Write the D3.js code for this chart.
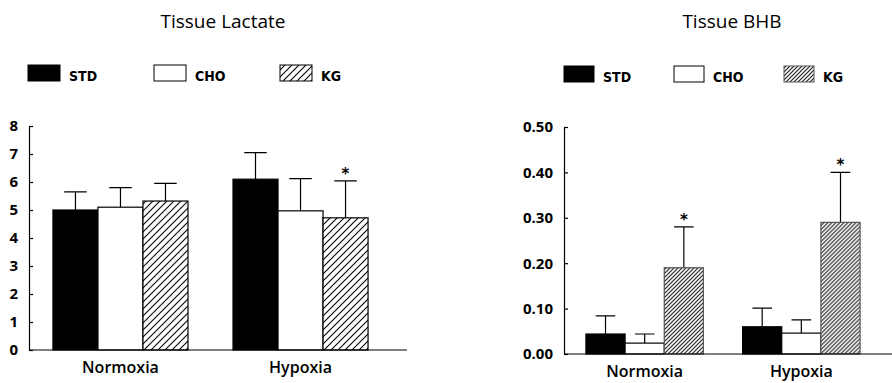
<!DOCTYPE html>
<meta charset="utf-8">
<style>
body { margin: 0; background: #fff; }
svg { display: block; }
.title { font-family: "Open Sans", "DejaVu Sans", sans-serif; font-size: 19px; }
.legend text { font-family: "DejaVu Sans Condensed", "DejaVu Sans", sans-serif; font-weight: bold; font-size: 14px; }
.yaxis text { font-family: "Open Sans", "DejaVu Sans", sans-serif; font-weight: bold; font-size: 15px; fill: #000; }
.xaxis text { font-family: "Open Sans", "DejaVu Sans", sans-serif; font-weight: 600; font-size: 16px; fill: #000; }
.star { font-family: "DejaVu Sans", sans-serif; font-weight: bold; font-size: 15px; }
</style>
<svg width="892" height="383"></svg>
<script src="https://d3js.org/d3.v7.min.js"></script>
<script>

var groups = ["Normoxia", "Hypoxia"];
var diets = ["STD", "CHO", "KG"];

// means and error (SD) by group, in diet order STD, CHO, KG
var lactateNormoxia = [5.0, 5.1, 5.32],
    lactateHypoxia = [6.1, 4.97, 4.72],
    lactateNormoxiaErr = [0.65, 0.7, 0.63],
    lactateHypoxiaErr = [0.95, 1.15, 1.32],
    lactateStar = [[0, 0, 0], [0, 0, 1]],
    lactateTicks = [0, 1, 2, 3, 4, 5, 6, 7, 8];

var bhbNormoxia = [0.044, 0.024, 0.19],
    bhbHypoxia = [0.06, 0.046, 0.29],
    bhbNormoxiaErr = [0.04, 0.02, 0.09],
    bhbHypoxiaErr = [0.041, 0.029, 0.11],
    bhbStar = [[0, 0, 1], [0, 0, 1]],
    bhbTicks = [0, 0.1, 0.2, 0.3, 0.4, 0.5];

var svg = d3.select("svg");
var defs = svg.append("defs");

// diagonal "///" hatch, s = horizontal spacing between lines
function hatch(id, s, color, width) {
  var p = defs.append("pattern")
      .attr("id", id)
      .attr("patternUnits", "userSpaceOnUse")
      .attr("width", s)
      .attr("height", s);
  p.append("rect").attr("width", s).attr("height", s).attr("fill", "#fff");
  p.append("path")
      .attr("d", "M0," + s + "L" + s + ",0M" + (-s / 2) + "," + (s / 2) + "L" + (s / 2) + "," + (-s / 2) +
                 "M" + (s / 2) + "," + (s * 1.5) + "L" + (s * 1.5) + "," + (s / 2))
      .attr("stroke", color)
      .attr("stroke-width", width);
}
hatch("hatchWide", 7, "#000", 1.1);
hatch("hatchDense", 4, "#222", 1.2);

function panel(o) {
  var rows = groups.map(function(g, i) {
    return diets.map(function(d, j) {
      return {group: g, diet: d, mean: o.means[i][j], err: o.errs[i][j], star: o.star[i][j]};
    });
  });

  var x0 = d3.scaleBand().domain(groups).range(o.xRange)
      .paddingInner(0.25).paddingOuter(o.outer);
  var x1 = d3.scaleBand().domain(diets).range([0, x0.bandwidth()]);
  var y = d3.scaleLinear().domain([0, d3.max(o.ticks)]).range(o.yRange);

  var fill = {STD: "#000", CHO: "#fff", KG: "url(#" + o.hatch + ")"};
  var kgStroke = o.hatch === "hatchDense" ? "#555" : "#000";

  svg.append("text")
      .attr("class", "title")
      .attr("x", o.titleX)
      .attr("y", 28)
      .attr("text-anchor", "middle")
      .text(o.title);

  // legend
  var leg = svg.append("g").attr("class", "legend");
  diets.forEach(function(d, i) {
    var lx = o.legX + i * o.legStep;
    leg.append("rect")
        .attr("x", lx).attr("y", o.legY)
        .attr("width", o.legW).attr("height", 16)
        .attr("fill", fill[d]).attr("stroke", d === "KG" ? kgStroke : "#000");
    leg.append("text")
        .attr("x", lx + o.legW + 9).attr("y", o.legY + 16)
        .text(d);
  });

  var g = svg.append("g");

  g.selectAll(".grp")
    .data(rows)
    .enter().append("g")
      .attr("transform", function(d, i) { return "translate(" + x0(groups[i]) + ",0)"; })
    .each(function(r) {
      var s = d3.select(this);
      var cap = x1.bandwidth() * 0.5;

      s.selectAll(".err")
        .data(r)
        .enter().append("path")
          .attr("fill", "none")
          .attr("stroke", "#000")
          .attr("stroke-width", 1.2)
          .attr("d", function(d) {
            var cx = x1(d.diet) + x1.bandwidth() / 2;
            return "M" + cx + "," + y(d.mean) + "V" + y(d.mean + d.err) +
                   "M" + (cx - cap / 2) + "," + y(d.mean + d.err) + "H" + (cx + cap / 2);
          });

      s.selectAll("rect")
        .data(r)
        .enter().append("rect")
          .attr("x", function(d) { return x1(d.diet); })
          .attr("y", function(d) { return y(d.mean); })
          .attr("width", x1.bandwidth())
          .attr("height", function(d) { return y(0) - y(d.mean); })
          .attr("fill", function(d) { return fill[d.diet]; })
          .attr("stroke", function(d) { return d.diet === "KG" ? kgStroke : "#000"; })
          .attr("stroke-width", 1.2);

      s.selectAll(".star")
        .data(r.filter(function(d) { return d.star; }))
        .enter().append("text")
          .attr("class", "star")
          .attr("x", function(d) { return x1(d.diet) + x1.bandwidth() / 2; })
          .attr("y", function(d) { return y(d.mean + d.err) - 2; })
          .attr("text-anchor", "middle")
          .text("*");
    });

  // y axis, ticks pointing inward
  g.append("g")
      .attr("class", "yaxis")
      .attr("transform", "translate(" + o.xRange[0] + ",0)")
      .call(d3.axisLeft(y).tickValues(o.ticks).tickFormat(o.fmt)
          .tickSizeInner(-4).tickSizeOuter(0).tickPadding(11))
    .call(function(a) { a.selectAll("path, line").attr("stroke", "#000").attr("stroke-width", 1.2); });

  // x axis
  g.append("g")
      .attr("class", "xaxis")
      .attr("transform", "translate(0," + y(0) + ")")
      .call(d3.axisBottom(x0).tickSize(0).tickPadding(12))
    .call(function(a) { a.select(".domain").remove(); });

  g.append("line")
      .attr("x1", o.xRange[0]).attr("x2", o.xEnd)
      .attr("y1", y(0)).attr("y2", y(0))
      .attr("stroke", "#000").attr("stroke-width", 1.2);
}

panel({
  title: "Tissue Lactate", titleX: 223,
  means: [lactateNormoxia, lactateHypoxia],
  errs: [lactateNormoxiaErr, lactateHypoxiaErr],
  star: lactateStar, ticks: lactateTicks, fmt: d3.format("d"),
  xRange: [29, 392], outer: 0.133, xEnd: 407,
  yRange: [350, 126], hatch: "hatchWide",
  legX: 28, legStep: 126, legW: 32, legY: 65
});

panel({
  title: "Tissue BHB", titleX: 732,
  means: [bhbNormoxia, bhbHypoxia],
  errs: [bhbNormoxiaErr, bhbHypoxiaErr],
  star: bhbStar, ticks: bhbTicks, fmt: d3.format(".2f"),
  xRange: [564, 882], outer: 0.14, xEnd: 892,
  yRange: [354, 127], hatch: "hatchDense",
  legX: 564, legStep: 110, legW: 30, legY: 66
});

</script>
